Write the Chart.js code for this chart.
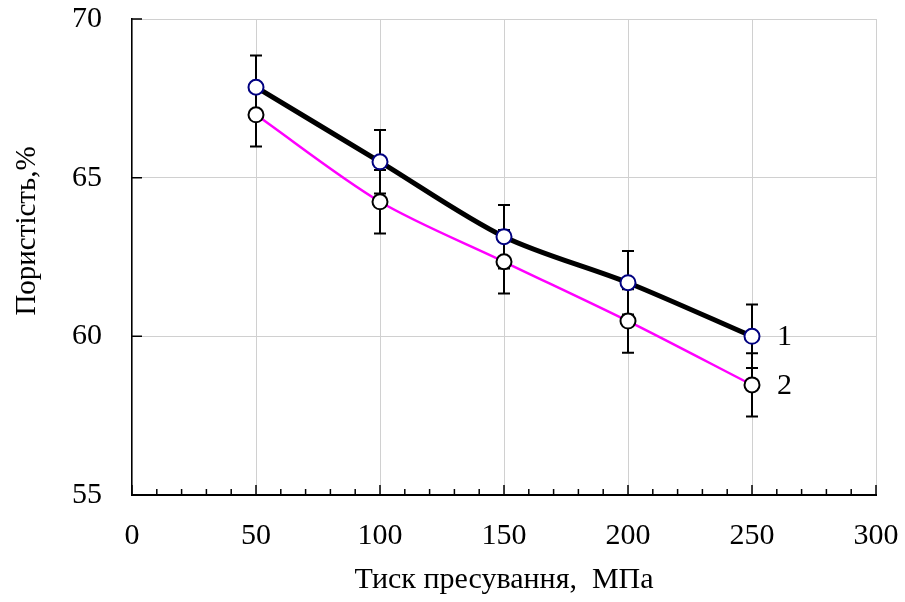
<!DOCTYPE html>
<html><head><meta charset="utf-8">
<script src="https://cdn.jsdelivr.net/npm/chart.js@4"></script>
<style>html,body{margin:0;padding:0;background:#fff;}#wrap{width:905px;height:602px;}</style>
</head><body><div id="wrap"><canvas id="c" width="905" height="602"></canvas></div>
<script>
const pressures = [50, 100, 150, 200, 250];
const porosity1 = [67.85, 65.50, 63.14, 61.69, 60.00];
const porosity2 = [66.98, 64.24, 62.35, 60.48, 58.47];
const error1 = [1, 1, 1, 1, 1];
const error2 = [1, 1, 1, 1, 1];
const seriesLabels = ['1', '2'];
const xTicks = [0, 50, 100, 150, 200, 250, 300];
const yTicks = [55, 60, 65, 70];
const xTitle = 'Тиск пресування,  МПа';
const yTitle = 'Пористість,%';

const FONT = "'Liberation Serif', 'Times New Roman', serif";
const errors = [error1, error2];

const extras = {
  id: 'extras',
  beforeDatasetsDraw(chart) {
    const ctx = chart.ctx, xs = chart.scales.x, ys = chart.scales.y;
    ctx.save();
    ctx.strokeStyle = '#000'; ctx.lineWidth = 2;
    chart.data.datasets.forEach((ds, i) => {
      ds.data.forEach((p, j) => {
        const px = xs.getPixelForValue(p.x);
        const top = ys.getPixelForValue(p.y + errors[i][j]);
        const bot = ys.getPixelForValue(p.y - errors[i][j]);
        ctx.beginPath();
        ctx.moveTo(px, top); ctx.lineTo(px, bot);
        ctx.moveTo(px - 6, top); ctx.lineTo(px + 6, top);
        ctx.moveTo(px - 6, bot); ctx.lineTo(px + 6, bot);
        ctx.stroke();
      });
    });
    // inward tick marks
    ctx.lineWidth = 1.5;
    ctx.beginPath();
    for (let v = xs.min; v <= xs.max; v += 10) {
      const px = xs.getPixelForValue(v);
      const len = (v % 50 === 0) ? 10 : 6;
      ctx.moveTo(px, xs.top); ctx.lineTo(px, xs.top - len);
    }
    yTicks.forEach(v => {
      const py = ys.getPixelForValue(v);
      ctx.moveTo(ys.right, py); ctx.lineTo(ys.right + 10, py);
    });
    ctx.stroke();
    ctx.restore();
  },
  afterDatasetsDraw(chart) {
    const ctx = chart.ctx, xs = chart.scales.x, ys = chart.scales.y;
    ctx.save();
    ctx.fillStyle = '#000';
    ctx.font = '30px ' + FONT;
    ctx.textAlign = 'left'; ctx.textBaseline = 'middle';
    chart.data.datasets.forEach((ds, i) => {
      const last = ds.data[ds.data.length - 1];
      ctx.fillText(seriesLabels[i], xs.getPixelForValue(last.x) + 25, ys.getPixelForValue(last.y) + 1);
    });
    // y axis title
    ctx.translate(35, 231);
    ctx.rotate(-Math.PI / 2);
    ctx.font = '29px ' + FONT;
    ctx.textAlign = 'center'; ctx.textBaseline = 'alphabetic';
    ctx.fillText(yTitle, 0, 0);
    ctx.restore();
  }
};

new Chart(document.getElementById('c'), {
  type: 'scatter',
  data: {
    datasets: [
      {
        label: seriesLabels[0],
        data: pressures.map((x, i) => ({x, y: porosity1[i]})),
        showLine: true, borderColor: '#000', borderWidth: 5, tension: 0.3,
        pointRadius: 7.5, pointBorderWidth: 2, pointBorderColor: '#000080', pointBackgroundColor: '#fff',
        pointHoverRadius: 7.5
      },
      {
        label: seriesLabels[1],
        data: pressures.map((x, i) => ({x, y: porosity2[i]})),
        showLine: true, borderColor: '#ff00ff', borderWidth: 2.5, tension: 0.3,
        pointRadius: 7.5, pointBorderWidth: 2, pointBorderColor: '#000', pointBackgroundColor: '#fff',
        pointHoverRadius: 7.5
      }
    ]
  },
  options: {
    responsive: false, animation: false, devicePixelRatio: 1,
    layout: { padding: { top: 19, right: 29, left: 0, bottom: 0 } },
    plugins: { legend: { display: false }, tooltip: { enabled: false } },
    scales: {
      x: {
        type: 'linear', min: 0, max: 300,
        afterBuildTicks: s => { s.ticks = xTicks.map(v => ({value: v})); },
        afterFit: s => { s.height = 107; s.paddingLeft = 0; s.paddingRight = 0; },
        grid: { color: '#d0d0d0', lineWidth: 1, drawTicks: false },
        border: { color: '#000', width: 2 },
        ticks: { color: '#000', font: { family: FONT, size: 30 }, padding: 23, maxRotation: 0 },
        title: { display: true, text: xTitle, color: '#000', font: { family: FONT, size: 30 }, padding: { top: 0, bottom: 4 } }
      },
      y: {
        type: 'linear', min: 55, max: 70,
        afterBuildTicks: s => { s.ticks = yTicks.map(v => ({value: v})); },
        afterFit: s => { s.width = 132; s.paddingTop = 0; s.paddingBottom = 0; },
        grid: { color: '#d0d0d0', lineWidth: 1, drawTicks: false },
        border: { color: '#000', width: 1.5 },
        ticks: { color: '#000', font: { family: FONT, size: 30 }, padding: 30 },
        title: { display: false }
      }
    }
  },
  plugins: [extras]
});
</script></body></html>
